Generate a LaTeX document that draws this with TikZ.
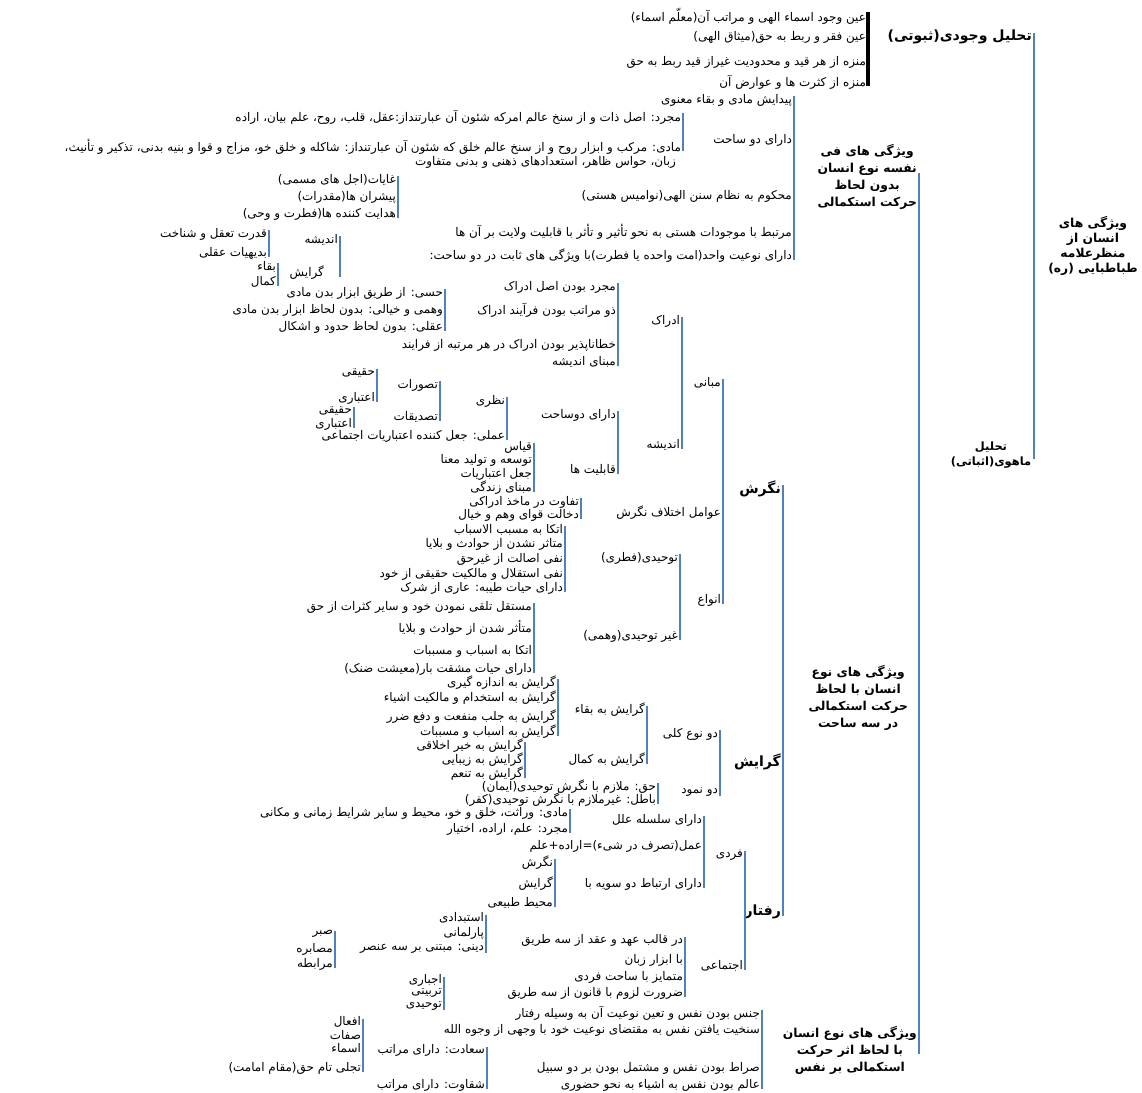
\documentclass[tikz,border=0pt]{standalone}
\usepackage{fontspec}
\newfontfamily\farsifont[Script=Arabic]{DejaVu Sans}
\TeXXeTstate=1
\newcommand{\fatxt}[1]{\beginR #1\endR}
\definecolor{brkblue}{RGB}{79,129,189}

\begin{document}
\begin{tikzpicture}[x=0.02cm, y=-0.02cm,
  lf/.style={anchor=east, inner sep=1pt, font=\farsifont\fontsize{6.8}{8}\selectfont},
  hd/.style={align=center, inner sep=1pt, font=\farsifont\bfseries\fontsize{7}{9.7}\selectfont},
  dm/.style={hd, anchor=east, font=\farsifont\bfseries\fontsize{8}{9}\selectfont},
  brk/.style={draw=brkblue, line width=1.6pt, shorten <=-2pt, shorten >=-2pt},
  blkbrk/.style={draw=black, line width=2pt, shorten <=-2pt, shorten >=-2pt}]
  \useasboundingbox (0,0) rectangle (1142,1092);
  % root and first level
  \node[hd, font=\farsifont\bfseries\fontsize{7}{8.5}\selectfont] (root) at (1093,246) {\fatxt{ویژگی های}\\\fatxt{انسان از}\\\fatxt{منظرعلامه}\\\fatxt{طباطبایی (ره)}};
  \node[dm] (wj) at (1034,37) {\fatxt{تحلیل وجودی(ثبوتی)}};
  \node[hd, font=\farsifont\bfseries\fontsize{6.5}{9}\selectfont] (mh) at (991,455) {\fatxt{تحلیل}\\\fatxt{ماهوی(اثباتی)}};
  \draw[brk] (wj.east) -- (wj.east |- mh.east);
  % existential analysis
  \node[lf] (wj1) at (868,16) {\fatxt{عین وجود اسماء الهی و مراتب آن(معلّم اسماء)}};
  \node[lf] (wj2) at (868,37) {\fatxt{عین فقر و ربط به حق(میثاق الهی)}};
  \node[lf] (wj3) at (868,62) {\fatxt{منزه از هر قید و محدودیت غیراز قید ربط به حق}};
  \node[lf] (wj4) at (868,82) {\fatxt{منزه از کثرت ها و عوارض آن}};
  \draw[blkbrk] (wj1.east) -- (wj4.east);
  % three main branches of the quiddity analysis
  \node[hd, anchor=east] (fn) at (919,177) {\fatxt{ویژگی های فی}\\\fatxt{نفسه نوع انسان}\\\fatxt{بدون لحاظ}\\\fatxt{حرکت استکمالی}};
  \node[hd, anchor=east] (ss) at (910,698) {\fatxt{ویژگی های نوع}\\\fatxt{انسان با لحاظ}\\\fatxt{حرکت استکمالی}\\\fatxt{در سه ساحت}};
  \node[hd, anchor=east] (as) at (919,1050) {\fatxt{ویژگی های نوع انسان}\\\fatxt{با لحاظ اثر حرکت}\\\fatxt{استکمالی بر نفس}};
  \draw[brk] (fn.east) -- (fn.east |- as.east);
  % per se features
  \node[lf] (fn1) at (794,100) {\fatxt{پیدایش مادی و بقاء معنوی}};
  \node[lf] (fn2) at (794,140) {\fatxt{دارای دو ساحت}};
  \node[lf] (fn3) at (794,196) {\fatxt{محکوم به نظام سنن الهی(نوامیس هستی)}};
  \node[lf] (fn4) at (794,232) {\fatxt{مرتبط با موجودات هستی به نحو تأثیر و تأثر با قابلیت ولایت بر آن ها}};
  \node[lf] (fn5) at (794,256) {\fatxt{دارای نوعیت واحد(امت واحده یا فطرت)با ویژگی های ثابت در دو ساحت:}};
  \draw[brk] (fn1.east) -- (fn5.east);
  \node[lf] (ds1) at (683,117) {\fatxt{مجرد: اصل ذات و از سنخ عالم  امرکه شئون آن عبارتنداز:عقل، قلب، روح، علم بیان، اراده}};
  \node[lf] (ds2) at (683,147) {\fatxt{مادی: مرکب و ابزار روح و از سنخ عالم خلق که شئون آن عبارتنداز: شاکله و خلق خو، مزاج و قوا و بنیه بدنی، تذکیر و تأنیث،}};
  \node[lf] (ds3) at (678,162) {\fatxt{زبان، حواس ظاهر، استعدادهای ذهنی و بدنی متفاوت}};
  \draw[brk] (ds1.east) -- (ds2.east);
  \node[lf] (sn1) at (398,180) {\fatxt{غایات(اجل های مسمی)}};
  \node[lf] (sn2) at (398,197) {\fatxt{پیشران ها(مقدرات)}};
  \node[lf] (sn3) at (398,214) {\fatxt{هدایت کننده ها(فطرت و وحی)}};
  \draw[brk] (sn1.east) -- (sn3.east);
  \node[lf] (nwA) at (340,240) {\fatxt{اندیشه}};
  \node[lf] (nwG) at (326,273) {\fatxt{گرایش}};
  \draw[brk] (nwA.east) -- (nwA.east |- nwG.east);
  \node[lf] (nwA1) at (269,234) {\fatxt{قدرت تعقل و شناخت}};
  \node[lf] (nwA2) at (269,253) {\fatxt{بدیهیات عقلی}};
  \draw[brk] (nwA1.east) -- (nwA2.east);
  \node[lf] (nwG1) at (278,267) {\fatxt{بقاء}};
  \node[lf] (nwG2) at (278,282) {\fatxt{کمال}};
  \draw[brk] (nwG1.east) -- (nwG2.east);
  % three domains
  \node[dm] (ng) at (783,489) {\fatxt{نگرش}};
  \node[dm] (gr) at (783,762) {\fatxt{گرایش}};
  \node[dm] (rf) at (783,912) {\fatxt{رفتار}};
  \draw[brk] (ng.east) -- (rf.east);
  % outlook
  \node[lf] (mb) at (723,383) {\fatxt{مبانی}};
  \node[lf] (ae) at (723,513) {\fatxt{عوامل اختلاف نگرش}};
  \node[lf] (nv) at (723,600) {\fatxt{انواع}};
  \draw[brk] (mb.east) -- (nv.east);
  \node[lf] (ed) at (682,321) {\fatxt{ادراک}};
  \node[lf] (an) at (682,445) {\fatxt{اندیشه}};
  \draw[brk] (ed.east) -- (an.east);
  \node[lf] (ed1) at (618,287) {\fatxt{مجرد بودن اصل ادراک}};
  \node[lf] (ed2) at (618,310) {\fatxt{ذو مراتب بودن فرآیند ادراک}};
  \node[lf] (ed3) at (618,345) {\fatxt{خطاناپذیر بودن ادراک  در هر مرتبه از فرایند}};
  \node[lf] (ed4) at (618,362) {\fatxt{مبنای اندیشه}};
  \draw[brk] (ed1.east) -- (ed4.east);
  \node[lf] (zm1) at (445,293) {\fatxt{حسی: از طریق ابزار بدن مادی}};
  \node[lf] (zm2) at (445,310) {\fatxt{وهمی و خیالی: بدون لحاظ ابزار بدن مادی}};
  \node[lf] (zm3) at (445,327) {\fatxt{عقلی: بدون لحاظ حدود و اشکال}};
  \draw[brk] (zm1.east) -- (zm3.east);
  \node[lf] (dd) at (618,415) {\fatxt{دارای دوساحت}};
  \node[lf] (qb) at (618,470) {\fatxt{قابلیت ها}};
  \draw[brk] (dd.east) -- (qb.east);
  \node[lf] (nz) at (507,401) {\fatxt{نظری}};
  \node[lf] (am) at (507,436) {\fatxt{عملی: جعل کننده اعتباریات اجتماعی}};
  \draw[brk] (nz.east) -- (am.east);
  \node[lf] (ta) at (440,385) {\fatxt{تصورات}};
  \node[lf] (tq) at (440,417) {\fatxt{تصدیقات}};
  \draw[brk] (ta.east) -- (tq.east);
  \node[lf] (ta1) at (377,373) {\fatxt{حقیقی}};
  \node[lf] (ta2) at (377,398) {\fatxt{اعتباری}};
  \draw[brk] (ta1.east) -- (ta2.east);
  \node[lf] (tq1) at (354,411) {\fatxt{حقیقی}};
  \node[lf] (tq2) at (354,424) {\fatxt{اعتباری}};
  \draw[brk] (tq1.east) -- (tq2.east);
  \node[lf] (qb1) at (534,447) {\fatxt{قیاس}};
  \node[lf] (qb2) at (534,460) {\fatxt{توسعه و تولید معنا}};
  \node[lf] (qb3) at (534,474) {\fatxt{جعل اعتباریات}};
  \node[lf] (qb4) at (534,488) {\fatxt{مبنای زندگی}};
  \draw[brk] (qb1.east) -- (qb4.east);
  \node[lf] (ae1) at (581,502) {\fatxt{تفاوت در ماخذ ادراکی}};
  \node[lf] (ae2) at (581,515) {\fatxt{دخالت قوای وهم و خیال}};
  \draw[brk] (ae1.east) -- (ae2.east);
  \node[lf] (tf) at (680,558) {\fatxt{توحیدی(فطری)}};
  \node[lf] (gt) at (680,636) {\fatxt{غیر توحیدی(وهمی)}};
  \draw[brk] (tf.east) -- (gt.east);
  \node[lf] (tf1) at (565,530) {\fatxt{اتکا به مسبب الاسباب}};
  \node[lf] (tf2) at (565,544) {\fatxt{متاثر نشدن از حوادث و بلایا}};
  \node[lf] (tf3) at (565,559) {\fatxt{نفی اصالت از غیرحق}};
  \node[lf] (tf4) at (565,574) {\fatxt{نفی استقلال و مالکیت حقیقی از خود}};
  \node[lf] (tf5) at (565,588) {\fatxt{دارای حیات طیبه: عاری از شرک}};
  \draw[brk] (tf1.east) -- (tf5.east);
  \node[lf] (gt1) at (534,607) {\fatxt{مستقل تلقی نمودن خود و سایر کثرات از حق}};
  \node[lf] (gt2) at (534,628) {\fatxt{متأثر شدن از حوادث و بلایا}};
  \node[lf] (gt3) at (534,651) {\fatxt{اتکا به اسباب و مسببات}};
  \node[lf] (gt4) at (534,669) {\fatxt{دارای حیات مشقت بار(معیشت ضنک)}};
  \draw[brk] (gt1.east) -- (gt4.east);
  % tendency
  \node[lf] (dk) at (720,734) {\fatxt{دو نوع کلی}};
  \node[lf] (dn) at (720,792) {\fatxt{دو نمود}};
  \draw[brk] (dk.east) -- (dn.east);
  \node[lf] (gb) at (647,710) {\fatxt{گرایش به بقاء}};
  \node[lf] (gk) at (647,760) {\fatxt{گرایش به کمال}};
  \draw[brk] (gb.east) -- (gk.east);
  \node[lf] (gb1) at (558,683) {\fatxt{گرایش به اندازه گیری}};
  \node[lf] (gb2) at (558,698) {\fatxt{گرایش به استخدام و مالکیت اشیاء}};
  \node[lf] (gb3) at (558,717) {\fatxt{گرایش به جلب منفعت و دفع ضرر}};
  \node[lf] (gb4) at (558,732) {\fatxt{گرایش به اسباب و مسببات}};
  \draw[brk] (gb1.east) -- (gb4.east);
  \node[lf] (gk1) at (525,746) {\fatxt{گرایش به خیر اخلاقی}};
  \node[lf] (gk2) at (525,760) {\fatxt{گرایش به زیبایی}};
  \node[lf] (gk3) at (525,774) {\fatxt{گرایش به تنعم}};
  \draw[brk] (gk1.east) -- (gk3.east);
  \node[lf] (dn1) at (658,787) {\fatxt{حق: ملازم با نگرش توحیدی(ایمان)}};
  \node[lf] (dn2) at (658,800) {\fatxt{باطل: غیرملازم با نگرش توحیدی(کفر)}};
  \draw[brk] (dn1.east) -- (dn2.east);
  % behaviour
  \node[lf] (fd) at (745,855) {\fatxt{فردی}};
  \node[lf] (ej) at (745,966) {\fatxt{اجتماعی}};
  \draw[brk] (fd.east) -- (ej.east);
  \node[lf] (sl) at (704,820) {\fatxt{دارای سلسله علل}};
  \node[lf] (am2) at (704,846) {\fatxt{عمل(تصرف در شیء)=اراده+علم}};
  \node[lf] (er) at (704,884) {\fatxt{دارای ارتباط دو سویه با}};
  \draw[brk] (sl.east) -- (er.east);
  \node[lf] (sl1) at (570,813) {\fatxt{مادی: وراثت، خلق و خو، محیط و سایر شرایط زمانی و مکانی}};
  \node[lf] (sl2) at (570,829) {\fatxt{مجرد: علم، اراده، اختیار}};
  \draw[brk] (sl1.east) -- (sl2.east);
  \node[lf] (er1) at (555,863) {\fatxt{نگرش}};
  \node[lf] (er2) at (555,884) {\fatxt{گرایش}};
  \node[lf] (er3) at (555,903) {\fatxt{محیط طبیعی}};
  \draw[brk] (er1.east) -- (er3.east);
  \node[lf] (ah) at (685,940) {\fatxt{در قالب عهد و عقد از سه طریق}};
  \node[lf] (az) at (685,960) {\fatxt{با ابزار زبان}};
  \node[lf] (mt) at (685,977) {\fatxt{متمایز با ساحت فردی}};
  \node[lf] (zr) at (685,993) {\fatxt{ضرورت لزوم با قانون از سه طریق}};
  \draw[brk] (ah.east) -- (zr.east);
  \node[lf] (ah1) at (486,918) {\fatxt{استبدادی}};
  \node[lf] (ah2) at (486,933) {\fatxt{پارلمانی}};
  \node[lf] (ah3) at (486,949) {\fatxt{دینی: مبتنی بر سه عنصر}};
  \draw[brk] (ah1.east) -- (ah3.east);
  \node[lf] (db1) at (335,934) {\fatxt{صبر}};
  \node[lf] (db2) at (335,949) {\fatxt{مصابره}};
  \node[lf] (db3) at (335,964) {\fatxt{مرابطه}};
  \draw[brk] (db1.east) -- (db3.east);
  \node[lf] (zr1) at (444,980) {\fatxt{اجباری}};
  \node[lf] (zr2) at (444,993) {\fatxt{تربیتی}};
  \node[lf] (zr3) at (444,1006) {\fatxt{توحیدی}};
  \draw[brk] (zr1.east) -- (zr3.east);
  % effect of perfection on the soul
  \node[lf] (as1) at (762,1013) {\fatxt{جنس بودن نفس و تعین نوعیت آن به وسیله رفتار}};
  \node[lf] (as2) at (762,1030) {\fatxt{سنخیت یافتن نفس به مقتضای نوعیت خود با وجهی از وجوه  الله}};
  \node[lf] (as3) at (762,1068) {\fatxt{صراط بودن نفس و مشتمل بودن بر دو سبیل}};
  \node[lf] (as4) at (762,1085) {\fatxt{عالم بودن نفس به اشیاء به نحو حضوری}};
  \draw[brk] (as1.east) -- (as4.east);
  \node[lf] (sd) at (487,1050) {\fatxt{سعادت: دارای مراتب}};
  \node[lf] (sq) at (487,1085) {\fatxt{شقاوت: دارای مراتب}};
  \draw[brk] (sd.east) -- (sq.east);
  \node[lf] (sd1) at (363,1022) {\fatxt{افعال}};
  \node[lf] (sd2) at (363,1035) {\fatxt{صفات}};
  \node[lf] (sd3) at (363,1048) {\fatxt{اسماء}};
  \node[lf] (sd4) at (363,1068) {\fatxt{تجلی تام حق(مقام امامت)}};
  \draw[brk] (sd1.east) -- (sd4.east);
\end{tikzpicture}
\end{document}
